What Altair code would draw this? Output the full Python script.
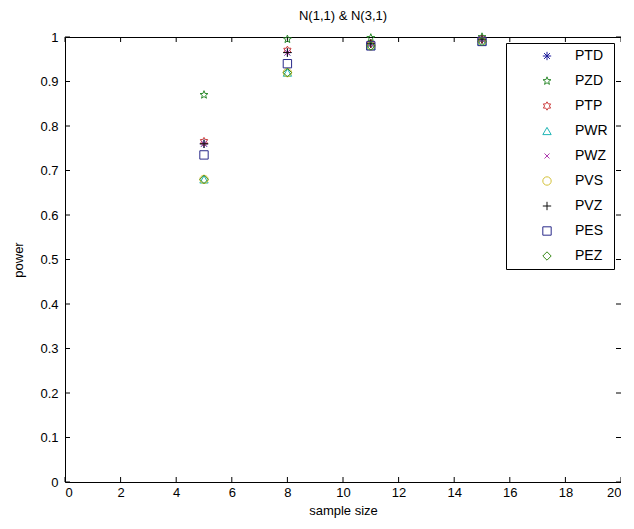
import altair as alt
import pandas as pd
import numpy as np

sample_sizes = [5, 8, 11, 15]
series_names = ["PTD", "PZD", "PTP", "PWR", "PWZ", "PVS", "PVZ", "PES", "PEZ"]
PTD = [0.760, 0.965, 0.985, 0.995]
PZD = [0.870, 0.995, 0.998, 1.000]
PTP = [0.765, 0.970, 0.985, 0.995]
PWR = [0.680, 0.920, 0.980, 0.990]
PWZ = [0.760, 0.965, 0.985, 0.995]
PVS = [0.680, 0.920, 0.980, 0.990]
PVZ = [0.760, 0.965, 0.985, 0.995]
PES = [0.735, 0.940, 0.980, 0.990]
PEZ = [0.680, 0.920, 0.980, 0.990]
series_values = [PTD, PZD, PTP, PWR, PWZ, PVS, PVZ, PES, PEZ]
x_ticks = list(range(0, 21, 2))
y_ticks = [round(i * 0.1, 1) for i in range(11)]

colors = ["#1a1a9a", "#2e8b2e", "#cc3b3b", "#1fb5b5", "#b03cb0",
          "#d4c23a", "#111111", "#2a2a8a", "#3a8a1a"]


def star_path(n, r_in):
    pts = []
    for k in range(2 * n):
        r = 1.0 if k % 2 == 0 else r_in
        a = np.pi * k / n - np.pi / 2
        pts.append((r * np.cos(a), r * np.sin(a)))
    return "M" + "L".join(f"{x:.3f},{y:.3f}" for x, y in pts) + "Z"


asterisk = "M0,-1L0,1M-1,0L1,0M-0.7,-0.7L0.7,0.7M-0.7,0.7L0.7,-0.7"
pentagram = star_path(5, 0.42)
hexagram = star_path(6, 0.58)
xmark = "M-0.6,-0.6L0.6,0.6M-0.6,0.6L0.6,-0.6"
plus = "M0,-1L0,1M-1,0L1,0"
shapes = [asterisk, pentagram, hexagram, "triangle-up", xmark, "circle",
          plus, "square", "diamond"]

rows = []
for order, (name, vals) in enumerate(zip(series_names, series_values)):
    for x, v in zip(sample_sizes, vals):
        rows.append({"series": name, "n": x, "power": v, "order": order})
df = pd.DataFrame(rows)

W, H = 556, 445
FONT = "Liberation Sans"

xscale = alt.Scale(domain=[0, 20], nice=False)
yscale = alt.Scale(domain=[0, 1], nice=False)

lab = "datum.label + '\u00a0\u00a0\u00a0\u00a0'"

points = alt.Chart(df).mark_point(filled=False, size=70, strokeWidth=1, opacity=1).encode(
    x=alt.X("n:Q", scale=xscale, title="sample size",
            axis=alt.Axis(values=x_ticks, ticks=False, domain=False, grid=False,
                          labelPadding=4, titlePadding=5)),
    y=alt.Y("power:Q", scale=yscale, title="power",
            axis=alt.Axis(values=y_ticks, format=".1~f", ticks=False, domain=False,
                          grid=False, labelPadding=7, titlePadding=14)),
    color=alt.Color("series:N", scale=alt.Scale(domain=series_names, range=colors),
                    legend=alt.Legend(title=None, labelExpr=lab)),
    shape=alt.Shape("series:N", scale=alt.Scale(domain=series_names, range=shapes),
                    legend=alt.Legend(title=None, labelExpr=lab)),
    order=alt.Order("order:Q"),
)

xt = pd.DataFrame({"v": x_ticks})
yt = pd.DataFrame({"v": y_ticks})

xb = alt.Chart(xt).mark_rule(color="black", strokeWidth=1).encode(
    x=alt.X("v:Q", scale=xscale), y=alt.value(H), y2=alt.value(H - 5))
xtop = alt.Chart(xt).mark_rule(color="black", strokeWidth=1).encode(
    x=alt.X("v:Q", scale=xscale), y=alt.value(0), y2=alt.value(5))
yl = alt.Chart(yt).mark_rule(color="black", strokeWidth=1).encode(
    y=alt.Y("v:Q", scale=yscale), x=alt.value(0), x2=alt.value(5))
yr = alt.Chart(yt).mark_rule(color="black", strokeWidth=1).encode(
    y=alt.Y("v:Q", scale=yscale), x=alt.value(W), x2=alt.value(W - 5))

chart = alt.layer(xb, xtop, yl, yr, points).properties(
    width=W, height=H,
    title=alt.Title("N(1,1) & N(3,1)", fontSize=13, font=FONT, fontWeight="normal",
                    color="black", offset=8),
    autosize=alt.AutoSizeParams(type="none"),
    padding={"left": 57, "top": 29, "right": 0, "bottom": 40},
).configure_view(stroke="black", strokeWidth=1).configure_axis(
    labelFont=FONT, labelFontSize=13, labelColor="black",
    titleFont=FONT, titleFontSize=13, titleFontWeight="normal", titleColor="black",
).configure_legend(
    orient="none", legendX=441, legendY=6,
    strokeColor="black", fillColor="white", padding=6,
    labelFont=FONT, labelFontSize=14, labelColor="black",
    symbolSize=70, symbolStrokeWidth=1, symbolOffset=28, labelOffset=21,
    rowPadding=11, cornerRadius=0,
)

chart.save("out.html", embed_options={"renderer": "svg", "actions": False})
